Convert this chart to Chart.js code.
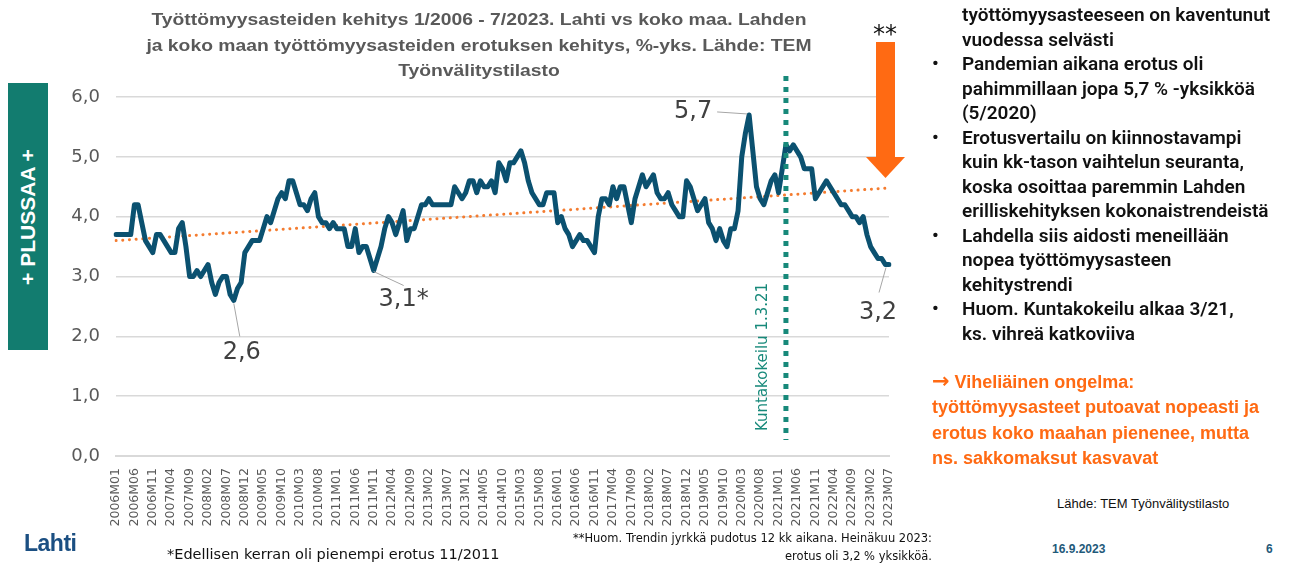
<!DOCTYPE html>
<html>
<head>
<meta charset="utf-8">
<script src="https://cdn.jsdelivr.net/npm/chart.js@4.4.0/dist/chart.umd.min.js"></script>
<style>
  body { margin: 0; width: 1289px; height: 565px; background: #fff; position: relative; overflow: hidden; font-family: "Liberation Sans", Arial, sans-serif; }
  #chartBox { position: absolute; left: 0; top: 0; width: 908px; height: 540px; }
  .abs { position: absolute; white-space: nowrap; }
  #title { left: 79px; top: 7px; width: 800px; text-align: center; font-weight: bold; font-size: 16.5px; line-height: 25.5px; color: #595959; transform: scaleX(1.17); }
  #plus { left: 8px; top: 83px; width: 40px; height: 267px; background: #127c6f; }
  #plus span { position: absolute; left: 50%; top: 50%; transform: translate(-50%, -50%) rotate(-90deg); color: #fff; font-weight: bold; font-size: 21px; white-space: nowrap; }
  #notes { left: 932px; top: 3px; font-size: 19px; line-height: 24.5px; color: #111; font-weight: 600; font-family: Roboto, "Liberation Sans", sans-serif; }
  #notes div { padding-left: 30px; position: relative; }
  #notes .b::before { content: "•"; position: absolute; left: 0; }
  #problem { left: 932px; top: 370px; font-size: 18px; line-height: 25.3px; color: #ff6a13; font-weight: bold; }
  #problem .arr { font-family: "DejaVu Sans"; font-size: 21px; font-weight: bold; line-height: 18px; }
</style>
</head>
<body>
<div id="chartBox"><canvas id="c" width="908" height="540"></canvas></div>

<div id="title" class="abs">Työttömyysasteiden kehitys 1/2006 - 7/2023. Lahti vs koko maa. Lahden<br>ja koko maan työttömyysasteiden erotuksen kehitys, %-yks. Lähde: TEM<br>Työnvälitystilasto</div>
<div id="plus" class="abs"><span>+ PLUSSAA +</span></div>

<div id="notes" class="abs">
  <div>työttömyysasteeseen on kaventunut<br>vuodessa selvästi</div>
  <div class="b">Pandemian aikana erotus oli<br>pahimmillaan jopa 5,7 % -yksikköä<br>(5/2020)</div>
  <div class="b">Erotusvertailu on kiinnostavampi<br>kuin kk-tason vaihtelun seuranta,<br>koska osoittaa paremmin Lahden<br>erilliskehityksen kokonaistrendeistä</div>
  <div class="b">Lahdella siis aidosti meneillään<br>nopea työttömyysasteen<br>kehitystrendi</div>
  <div class="b">Huom. Kuntakokeilu alkaa 3/21,<br>ks. vihreä katkoviiva</div>
</div>
<div id="problem" class="abs"><span class="arr">→</span> Viheliäinen ongelma:<br>työttömyysasteet putoavat nopeasti ja<br>erotus koko maahan pienenee, mutta<br>ns. sakkomaksut kasvavat</div>

<div class="abs" style="left:1057px; top:496px; font-size:13px; color:#111;">Lähde: TEM Työnvälitystilasto</div>
<div class="abs" style="left:1052px; top:542px; font-size:12px; color:#1f5a7a; font-weight:bold;">16.9.2023</div>
<div class="abs" style="left:1266px; top:542px; font-size:12px; color:#1f5a7a; font-weight:bold;">6</div>
<div class="abs" style="left:24px; top:530px; font-size:23px; color:#1b4f82; font-weight:bold; letter-spacing:-0.5px;">Lahti</div>
<div class="abs" style="left:167px; top:546px; font-size:14.5px; color:#111; font-family:'DejaVu Sans';">*Edellisen kerran oli pienempi erotus 11/2011</div>
<div class="abs" style="left:532px; width:400px; top:529px; font-size:11.5px; color:#111; text-align:right; line-height:18px; font-family:'DejaVu Sans';">**Huom. Trendin jyrkkä pudotus 12 kk aikana. Heinäkuu 2023:<br>erotus oli 3,2 % yksikköä.</div>

<script>
// kuukaudet 2006M01 - 2023M07
const months = []
for (let y = 2006; y <= 2023; y++) {
  for (let m = 1; m <= 12; m++) {
    if (y === 2023 && m > 7) break
    months.push(y + 'M' + String(m).padStart(2, '0'))
  }
}

// Lahden ja koko maan työttömyysasteiden erotus, %-yks.
const erotus = [
  3.7, 3.7, 3.7, 3.7, 3.7, 4.2, 4.2, 3.9, 3.6, 3.5, 3.4, 3.7,
  3.7, 3.6, 3.5, 3.4, 3.4, 3.8, 3.9, 3.5, 3.0, 3.0, 3.1, 3.0,
  3.1, 3.2, 2.9, 2.7, 2.9, 3.0, 3.0, 2.7, 2.6, 2.8, 2.9, 3.4,
  3.5, 3.6, 3.6, 3.6, 3.8, 4.0, 3.9, 4.1, 4.3, 4.4, 4.3, 4.6,
  4.6, 4.4, 4.2, 4.2, 4.1, 4.3, 4.4, 4.0, 3.9, 3.9, 3.8, 3.9,
  3.8, 3.8, 3.8, 3.5, 3.5, 3.8, 3.4, 3.5, 3.5, 3.3, 3.1, 3.3,
  3.5, 3.8, 4.0, 3.9, 3.7, 3.9, 4.1, 3.6, 3.8, 3.8, 4.0, 4.2,
  4.2, 4.3, 4.2, 4.2, 4.2, 4.2, 4.2, 4.2, 4.5, 4.4, 4.3, 4.4,
  4.6, 4.6, 4.4, 4.6, 4.5, 4.5, 4.6, 4.4, 4.9, 4.8, 4.6, 4.9,
  4.9, 5.0, 5.1, 4.9, 4.6, 4.4, 4.3, 4.2, 4.2, 4.4, 4.4, 4.4,
  3.9, 4.0, 3.8, 3.7, 3.5, 3.6, 3.7, 3.6, 3.6, 3.5, 3.4, 4.0,
  4.3, 4.3, 4.2, 4.5, 4.3, 4.5, 4.5, 4.2, 3.9, 4.3, 4.5, 4.7,
  4.5, 4.6, 4.7, 4.4, 4.3, 4.3, 4.4, 4.2, 4.1, 4.0, 4.0, 4.6,
  4.5, 4.3, 4.1, 4.2, 4.3, 3.9, 3.8, 3.6, 3.8, 3.6, 3.5, 3.8,
  3.8, 4.1, 5.0, 5.4, 5.7, 5.1, 4.5, 4.3, 4.2, 4.4, 4.6, 4.7,
  4.4, 4.8, 5.2, 5.1, 5.2, 5.1, 5.0, 4.8, 4.8, 4.8, 4.3, 4.4,
  4.5, 4.6, 4.5, 4.4, 4.3, 4.2, 4.2, 4.1, 4.0, 4.0, 3.9, 4.0,
  3.7, 3.5, 3.4, 3.3, 3.3, 3.2, 3.2
]

// lineaarinen trendi: alku- ja loppuarvo kuvasta
const trendStart = 3.6
const trendEnd = 4.48
const trend = months.map((m, i) => i === 0 ? trendStart : (i === months.length - 1 ? trendEnd : null))

const yTicks = [0, 1, 2, 3, 4, 5, 6]
const kuntakokeilu = '2021M03'

// arvojen tekstit kuvassa: [kuukausi, teksti, tekstin dx, dy, viivan alku dx, dy, loppu dx, dy]
const callouts = [
  ['2020M05', '5,7', -56, -3, -2, -1, -32, -3],
  ['2008M09', '2,6', 8, 52, 0, 3, 6, 36],
  ['2011M11', '3,1*', 30, 29, 0, 1, 30, 15],
  ['2023M07', '3,2', -11, 48, -3, 3, -10, 28]
]

const extras = {
  id: 'extras',
  afterDatasetsDraw(chart) {
    const { ctx, scales: { x, y } } = chart
    ctx.save()
    // kuntakokeilun pystyviiva
    const kx = x.getPixelForValue(months.indexOf(kuntakokeilu))
    ctx.strokeStyle = '#17897a'
    ctx.lineWidth = 5
    ctx.setLineDash([5, 6])
    ctx.beginPath()
    ctx.moveTo(kx, 76)
    ctx.lineTo(kx, 440)
    ctx.stroke()
    ctx.setLineDash([])
    ctx.save()
    ctx.translate(kx - 23, 357)
    ctx.rotate(-Math.PI / 2)
    ctx.fillStyle = '#17897a'
    ctx.font = '15px "DejaVu Sans"'
    ctx.textAlign = 'center'
    ctx.textBaseline = 'middle'
    ctx.fillText('Kuntakokeilu 1.3.21', 0, 0)
    ctx.restore()

    // arvotekstit
    callouts.forEach(([m, txt, tx, ty, ax, ay, bx, by]) => {
      const i = months.indexOf(m)
      const px = x.getPixelForValue(i)
      const py = y.getPixelForValue(erotus[i])
      ctx.strokeStyle = '#a6a6a6'
      ctx.lineWidth = 1
      ctx.beginPath()
      ctx.moveTo(px + ax, py + ay)
      ctx.lineTo(px + bx, py + by)
      ctx.stroke()
      ctx.fillStyle = '#404040'
      ctx.font = '24px "DejaVu Sans"'
      ctx.textAlign = 'center'
      ctx.textBaseline = 'middle'
      ctx.fillText(txt, px + tx, py + ty)
    })

    // oranssi nuoli ja **
    ctx.fillStyle = '#ff6a13'
    ctx.fillRect(876, 42, 19, 116)
    ctx.beginPath()
    ctx.moveTo(866, 157)
    ctx.lineTo(905, 157)
    ctx.lineTo(885.5, 178)
    ctx.closePath()
    ctx.fill()
    ctx.fillStyle = '#111'
    ctx.font = '24px "DejaVu Sans"'
    ctx.textAlign = 'center'
    ctx.fillText('**', 885, 36)
    ctx.restore()
  }
}

new Chart(document.getElementById('c'), {
  type: 'line',
  data: {
    labels: months,
    datasets: [
      {
        data: erotus,
        borderColor: '#0b5170',
        borderWidth: 5,
        pointRadius: 0,
        tension: 0,
        borderJoinStyle: 'round',
        borderCapStyle: 'round'
      },
      {
        data: trend,
        spanGaps: true,
        borderColor: '#f47c30',
        borderWidth: 3,
        borderDash: [0.1, 6.6],
        borderCapStyle: 'round',
        pointRadius: 0
      }
    ]
  },
  options: {
    responsive: false,
    animation: false,
    layout: { padding: { top: 97, right: 9, left: 0, bottom: 0 } },
    plugins: { legend: { display: false }, tooltip: { enabled: false } },
    scales: {
      x: {
        grid: { display: false },
        border: { color: '#d9d9d9', width: 2 },
        afterFit: s => { s.height = 84 },
        ticks: {
          autoSkip: false,
          maxRotation: 90,
          minRotation: 90,
          padding: 4,
          color: '#595959',
          font: { family: '"DejaVu Sans"', size: 12.5 },
          callback: (v, i) => i % 5 === 0 ? months[i] : ''
        }
      },
      y: {
        min: 0,
        max: 6,
        afterFit: s => { s.width = 116 },
        afterBuildTicks: s => { s.ticks = yTicks.map(v => ({ value: v })) },
        border: { display: false },
        grid: { color: '#d9d9d9', lineWidth: 1.5, drawTicks: false },
        ticks: {
          padding: 16,
          color: '#595959',
          font: { family: '"DejaVu Sans"', size: 18 },
          callback: v => v.toFixed(1).replace('.', ',')
        }
      }
    }
  },
  plugins: [extras]
})
</script>
</body>
</html>
